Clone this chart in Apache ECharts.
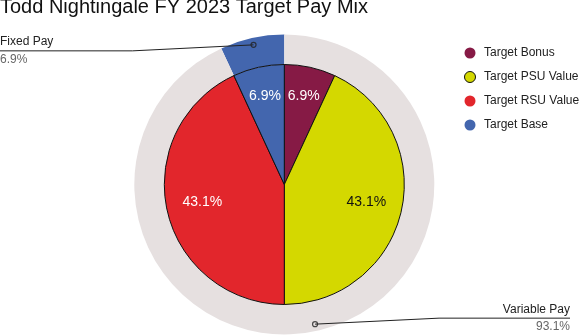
<!DOCTYPE html>
<html><head><meta charset="utf-8">
<script src="https://cdn.jsdelivr.net/npm/echarts@6/dist/echarts.min.js"></script>
<style>html,body{margin:0;padding:0;background:#fff}#c{width:582px;height:336px}</style>
</head><body><div id="c"></div>
<script>
// ---- data ----
const chartTitle = 'Todd Nightingale FY 2023 Target Pay Mix';
const innerNames = ['Target Bonus', 'Target PSU Value', 'Target RSU Value', 'Target Base'];
const innerValues = [6.9, 43.1, 43.1, 6.9];
const outerNames = ['Fixed Pay', 'Variable Pay'];
const outerValues = [6.9, 93.1];

// ---- styles ----
const innerColors = ['#861a45', '#d4d800', '#e2262c', '#4366ae'];
const innerLabelColors = ['#ffffff', '#111111', '#ffffff', '#ffffff'];
const legendBorders = [0, 1, 0, 0];
const outerColors = ['#4366ae', '#e6e0e0'];

const W = 582, H = 336;
const CENTER = [284.3, 184.5];
const FONT = '"Liberation Sans", Arial, sans-serif';
const chart = echarts.init(document.getElementById('c'), null, { renderer: 'canvas' });

const innerData = innerNames.map((n, i) => ({ name: n, value: innerValues[i], itemStyle: { color: innerColors[i] } }));
const innerLabelData = innerNames.map((n, i) => ({ name: n, value: innerValues[i], label: { color: innerLabelColors[i] } }));
const outerData = outerNames.map((n, i) => ({ name: n, value: outerValues[i], itemStyle: { color: outerColors[i] } }));
const outerLabelData = outerNames.map((n, i) => ({ name: n, value: outerValues[i] }));

const outerTotal = outerValues.reduce((a, b) => a + b, 0);
let acc = 0;
const dotData = outerValues.map(v => { const mid = acc + v / 2; acc += v; return [1, mid / outerTotal * 100]; });

const transparent = 'rgba(0,0,0,0)';

chart.setOption({
  animation: false,
  backgroundColor: '#ffffff',
  title: {
    text: chartTitle, left: 0, top: -3, padding: 0,
    textStyle: { fontSize: 20, fontWeight: 'normal', color: '#111', fontFamily: FONT }
  },
  legend: {
    orient: 'vertical', left: 459, top: 42, itemWidth: 18, itemHeight: 11, itemGap: 12,
    icon: 'circle',
    data: innerNames.map((n, i) => ({ name: n, itemStyle: { borderWidth: legendBorders[i], borderColor: '#111' } })),
    textStyle: { fontSize: 12, color: '#222', fontFamily: FONT },
    selectedMode: false
  },
  polar: { center: CENTER, radius: 143 },
  angleAxis: { type: 'value', min: 0, max: 100, startAngle: 90, clockwise: false, show: false },
  radiusAxis: { type: 'value', min: 0, max: 1, show: false },
  series: [
    {
      type: 'pie', name: 'ring', center: CENTER, radius: [120, 150], startAngle: 90, clockwise: false,
      data: outerData, label: { show: false }, labelLine: { show: false }, silent: true, z: 1,
      itemStyle: { borderWidth: 0 }
    },
    {
      type: 'pie', name: 'mix', center: CENTER, radius: [0, 120], startAngle: 90, clockwise: true,
      data: innerData, label: { show: false }, labelLine: { show: false }, silent: true, z: 3,
      itemStyle: { borderColor: '#111', borderWidth: 1 }
    },
    {
      type: 'pie', name: 'mixLabels', center: CENTER, radius: [54, 120], startAngle: 90, clockwise: true,
      data: innerLabelData, silent: true, z: 4,
      itemStyle: { color: transparent, borderWidth: 0 },
      label: {
        show: true, position: 'inside', fontSize: 14, fontFamily: FONT,
        formatter: p => p.value.toFixed(1) + '%'
      },
      labelLine: { show: false },
      labelLayout: function (p) {
        const r = p.labelRect;
        const cx = r.x + r.width / 2, cy = r.y + r.height / 2;
        const dx = cx - CENTER[0], dy = cy - CENTER[1];
        const d = Math.hypot(dx, dy) || 1;
        const target = innerValues[p.dataIndex] < 25 ? 90 : 84;
        return { dx: dx / d * target - dx, dy: dy / d * target - dy };
      }
    },
    {
      type: 'pie', name: 'ringLabels', center: CENTER, radius: [0, 143], startAngle: 90, clockwise: false,
      data: outerLabelData, silent: true, z: 5,
      itemStyle: { color: transparent, borderWidth: 0 },
      label: {
        show: true, position: 'outside', alignTo: 'edge', edgeDistance: 0,
        fontFamily: FONT,
        formatter: p => '{n|' + p.name + '}\n{p|' + p.value.toFixed(1) + '%}',
        rich: {
          n: { fontSize: 12, color: '#222', lineHeight: 17.5, fontFamily: FONT },
          p: { fontSize: 12, color: '#666', lineHeight: 17.5, fontFamily: FONT }
        }
      },
      labelLine: { show: true, length: 4, length2: 10, lineStyle: { color: '#222', width: 1 } },
      labelLayout: function (p) {
        const pts = p.labelLinePoints;
        if (!pts) return {};
        const start = pts[0];
        const isLeft = start[0] < CENTER[0];
        const isTop = start[1] < CENTER[1];
        const y = start[1] + (isTop ? 6 : -6);
        const endX = isLeft ? 0 : W - 12;
        const kneeX = start[0] + (isLeft ? -121 : 124);
        return {
          x: endX, y: y, align: isLeft ? 'left' : 'right', verticalAlign: 'middle',
          labelLinePoints: [start, [kneeX, y], [endX, y]]
        };
      }
    },
    {
      type: 'scatter', coordinateSystem: 'polar', data: dotData, symbol: 'circle', symbolSize: 5,
      itemStyle: { color: transparent, borderColor: '#222', borderWidth: 1.2 }, silent: true, z: 6
    }
  ]
});
</script></body></html>
